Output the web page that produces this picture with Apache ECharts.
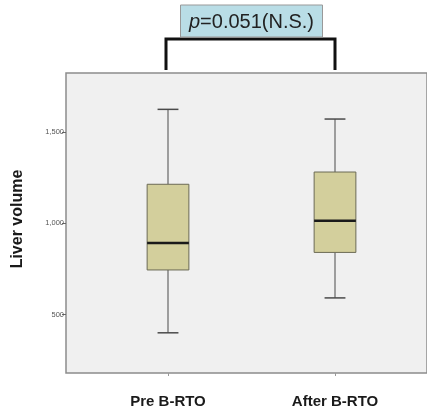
<!DOCTYPE html>
<html>
<head>
<meta charset="utf-8">
<script src="https://cdn.jsdelivr.net/npm/echarts@6/dist/echarts.min.js"></script>
<style>
  html, body { margin: 0; padding: 0; background: #fff; }
  #main { width: 427px; height: 409px; }
</style>
</head>
<body>
<div id="main"></div>
<script>
// categories and five-number summaries
var categories = ["Pre B-RTO", "After B-RTO"];
var mins = [400, 591];
var q1s = [744, 840];
var medians = [891, 1013];
var q3s = [1213, 1280];
var maxs = [1623, 1570];
var yTicks = [500, 1000, 1500];
var pLabel = "=0.051(N.S.)";

var FONT = "Liberation Sans, Arial, sans-serif";
var chart = echarts.init(document.getElementById("main"));

var boxData = categories.map(function (c, i) {
  return [i, mins[i], q1s[i], medians[i], q3s[i], maxs[i]];
});

function renderBox(params, api) {
  var x = api.value(0);
  var pMin = api.coord([x, api.value(1)]);
  var pQ1 = api.coord([x, api.value(2)]);
  var pMed = api.coord([x, api.value(3)]);
  var pQ3 = api.coord([x, api.value(4)]);
  var pMax = api.coord([x, api.value(5)]);
  var band = api.size([1, 0])[0];
  var half = band * 0.125;
  var cap = half / 2;
  var cx = pMed[0];
  var lineStyle = { stroke: "#4a4a4a", lineWidth: 1 };
  return {
    type: "group",
    children: [
      { type: "line", shape: { x1: cx, y1: pQ3[1], x2: cx, y2: pMax[1] }, style: lineStyle },
      { type: "line", shape: { x1: cx, y1: pQ1[1], x2: cx, y2: pMin[1] }, style: lineStyle },
      { type: "line", shape: { x1: cx - cap, y1: pMax[1], x2: cx + cap, y2: pMax[1] }, style: { stroke: "#4a4a4a", lineWidth: 1.5 } },
      { type: "line", shape: { x1: cx - cap, y1: pMin[1], x2: cx + cap, y2: pMin[1] }, style: { stroke: "#4a4a4a", lineWidth: 1.5 } },
      {
        type: "rect",
        shape: { x: cx - half, y: pQ3[1], width: half * 2, height: pQ1[1] - pQ3[1] },
        style: { fill: "#d3cf9c", stroke: "#6b6a55", lineWidth: 1 }
      },
      { type: "line", shape: { x1: cx - half, y1: pMed[1], x2: cx + half, y2: pMed[1] }, style: { stroke: "#1a1a1a", lineWidth: 2.5 } }
    ]
  };
}

var option = {
  backgroundColor: "#fff",
  animation: false,
  grid: [
    // panel with the y axis (runs past the right edge as in the source)
    { left: 66, top: 73, width: 380, bottom: 36, show: true, backgroundColor: "#f0f0f0", borderColor: "#8c8c8c", borderWidth: 1.5 },
    // category layout for the boxes
    { left: 84.5, top: 73, width: 334, bottom: 36 }
  ],
  xAxis: [
    { gridIndex: 0, type: "value", show: false },
    {
      gridIndex: 1,
      type: "category",
      data: categories,
      axisLine: { show: false },
      axisTick: { show: true, alignWithLabel: true, length: 3, lineStyle: { color: "#999" } },
      axisLabel: { margin: 21, fontFamily: FONT, fontSize: 15, fontWeight: "bold", color: "#1a1a1a" }
    }
  ],
  yAxis: [
    {
      gridIndex: 0,
      type: "value",
      min: 180,
      max: 1822,
      name: "Liver volume",
      nameLocation: "middle",
      nameGap: 40,
      nameRotate: 90,
      nameTextStyle: { fontFamily: FONT, fontSize: 16, fontWeight: "bold", color: "#1a1a1a", padding: [0, 0, 0, 8] },
      axisLine: { show: false },
      splitLine: { show: false },
      axisTick: { show: true, length: 4, customValues: yTicks, lineStyle: { color: "#666" } },
      axisLabel: {
        customValues: yTicks,
        margin: 2,
        fontFamily: FONT,
        fontSize: 7.5,
        color: "#555",
        formatter: function (v) { return v.toLocaleString("en-US"); }
      }
    },
    { gridIndex: 1, type: "value", min: 180, max: 1822, show: false, splitLine: { show: false } }
  ],
  series: [
    {
      type: "custom",
      xAxisIndex: 1,
      yAxisIndex: 1,
      data: boxData,
      renderItem: renderBox
    }
  ]
};

chart.setOption(option);

// significance bracket over the two categories
var left = chart.convertToPixel({ xAxisIndex: 1 }, categories[0]);
var right = chart.convertToPixel({ xAxisIndex: 1 }, categories[1]);
var mid = (left + right) / 2;
chart.setOption({
  graphic: [
    {
      type: "polyline",
      shape: { points: [[left - 2, 70], [left - 2, 39], [right, 39], [right, 70]] },
      style: { stroke: "#111", lineWidth: 3, fill: null }
    },
    {
      type: "rect",
      shape: { x: mid - 71, y: 5, width: 142, height: 32 },
      style: { fill: "#b9dde6", stroke: "#999", lineWidth: 1 }
    },
    {
      type: "text",
      x: mid,
      y: 22,
      style: {
        text: "{i|p}" + pLabel,
        align: "center",
        verticalAlign: "middle",
        fontFamily: FONT,
        fontSize: 20,
        fill: "#222",
        rich: { i: { fontStyle: "italic", fontFamily: FONT, fontSize: 20, fill: "#222" } }
      }
    }
  ]
});
</script>
</body>
</html>
